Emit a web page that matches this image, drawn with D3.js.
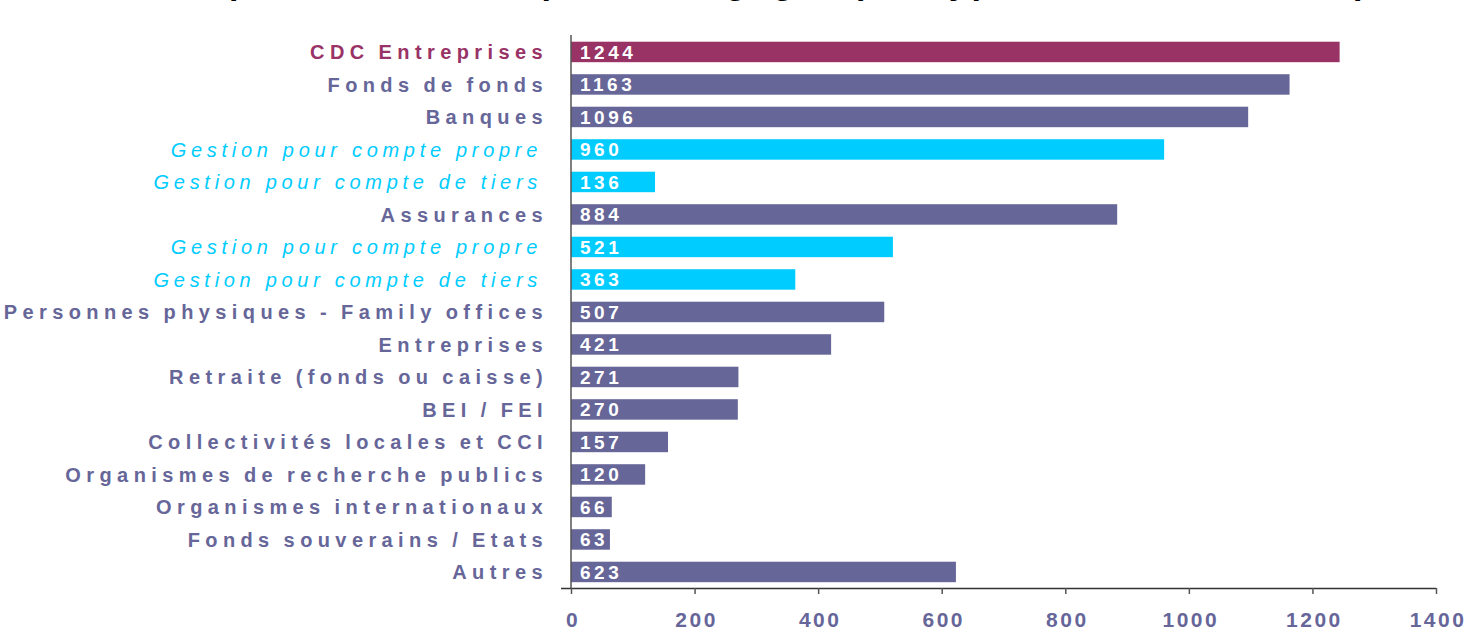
<!DOCTYPE html>
<html>
<head>
<meta charset="utf-8">
<script src="https://cdn.jsdelivr.net/npm/d3@7"></script>
<style>
  html, body { margin: 0; padding: 0; background: #fff; overflow: hidden; }
  svg { display: block; font-family: "Liberation Sans", Arial, sans-serif; }
</style>
</head>
<body>
<div id="chart"></div>
<script>
// Data
const titleText = "Répartition des capitaux engagés par type d'investisseurs (en M€)";

const categories = [
  "CDC Entreprises",
  "Fonds de fonds",
  "Banques",
  "Gestion pour compte propre",
  "Gestion pour compte de tiers",
  "Assurances",
  "Gestion pour compte propre ",
  "Gestion pour compte de tiers ",
  "Personnes physiques - Family offices",
  "Entreprises",
  "Retraite (fonds ou caisse)",
  "BEI / FEI",
  "Collectivités locales et CCI",
  "Organismes de recherche publics",
  "Organismes internationaux",
  "Fonds souverains / Etats",
  "Autres"
];

const values = [1244, 1163, 1096, 960, 136, 884, 521, 363, 507, 421, 271, 270, 157, 120, 66, 63, 623];

// 0 = main category, 1 = sub-category (breakdown of the row above)
const levels = [0, 0, 0, 1, 1, 0, 1, 1, 0, 0, 0, 0, 0, 0, 0, 0, 0];

const highlighted = "CDC Entreprises";

const xTicks = [0, 200, 400, 600, 800, 1000, 1200, 1400];

const W = 1468, H = 642;

const rows = categories.map((c, i) => ({ name: c, value: values[i], level: levels[i] }));

const colorOf = d => d.name === highlighted ? "#993366" : (d.level === 1 ? "#00CCFF" : "#666699");

const svg = d3.select("#chart").append("svg")
  .attr("width", W)
  .attr("height", H);

// Title (cut off at the top in the original, only descenders show)
const title = svg.append("text")
  .attr("x", 0)
  .attr("y", -6)
  .attr("font-size", 34)
  .attr("font-weight", "bold")
  .attr("fill", "#000")
  .text(titleText);

// spread the title so it sits where the original one does
const tNode = title.node();
const iP = titleText.indexOf("p");
const iParen = titleText.indexOf("(");
const a = tNode.getSubStringLength(0, iP);
const b = tNode.getSubStringLength(0, iParen);
const ls = ((1349 - 229) - (b - a)) / (iParen - iP);
title
  .attr("letter-spacing", ls)
  .attr("x", 229 - a - iP * ls);

const x = d3.scaleLinear()
  .domain([0, 1400])
  .range([571, 1436]);

const y = d3.scaleBand()
  .domain(d3.range(rows.length))
  .range([35.7, 588.2])
  .paddingInner(0.37)
  .paddingOuter(0.185);

// Bars
svg.append("g")
  .selectAll("rect")
  .data(rows)
  .join("rect")
  .attr("x", x(0))
  .attr("y", (d, i) => y(i))
  .attr("width", d => x(d.value) - x(0))
  .attr("height", y.bandwidth())
  .attr("fill", colorOf);

// Values inside bars
svg.append("g")
  .selectAll("text")
  .data(rows)
  .join("text")
  .attr("x", x(0) + 9)
  .attr("y", (d, i) => y(i) + y.bandwidth() / 2)
  .attr("dy", "0.36em")
  .attr("fill", "#fff")
  .attr("font-size", 19)
  .attr("font-weight", "bold")
  .attr("letter-spacing", 3.5)
  .text(d => d.value);

// Category labels
svg.append("g")
  .selectAll("text")
  .data(rows)
  .join("text")
  .attr("x", d => d.level === 1 ? 542 : 548)
  .attr("y", (d, i) => y(i) + y.bandwidth() / 2)
  .attr("dy", "0.36em")
  .attr("text-anchor", "end")
  .attr("fill", colorOf)
  .attr("font-size", 20)
  .attr("font-weight", d => d.level === 1 ? "normal" : "bold")
  .attr("font-style", d => d.level === 1 ? "italic" : "normal")
  .attr("letter-spacing", d => d.level === 1 ? 4.7 : 5.4)
  .attr("word-spacing", d => d.level === 1 ? 0 : -2)
  .text(d => d.name.trim());

// Vertical axis line
svg.append("line")
  .attr("x1", x(0)).attr("x2", x(0))
  .attr("y1", 35).attr("y2", 588)
  .attr("stroke", "#555")
  .attr("stroke-width", 1.5);

// X axis
const xAxis = d3.axisBottom(x)
  .tickValues(xTicks)
  .tickSize(6)
  .tickSizeOuter(0)
  .tickFormat(d3.format("d"));

const gx = svg.append("g")
  .attr("transform", "translate(0,588)")
  .call(xAxis);

gx.select(".domain")
  .attr("d", `M${x(0) - 10},0.5H${x(1400)}`)
  .attr("stroke", "#333")
  .attr("stroke-width", 1.5);

gx.selectAll(".tick line")
  .attr("stroke", "#555")
  .attr("stroke-width", 1.5);

gx.selectAll(".tick text")
  .attr("y", 0)
  .attr("dy", 0)
  .attr("transform", "translate(1.5,39)")
  .attr("fill", "#666699")
  .attr("font-size", 21)
  .attr("font-weight", "bold")
  .attr("letter-spacing", 2.5)
  .attr("font-family", "'Liberation Sans', Arial, sans-serif");
</script>
</body>
</html>
